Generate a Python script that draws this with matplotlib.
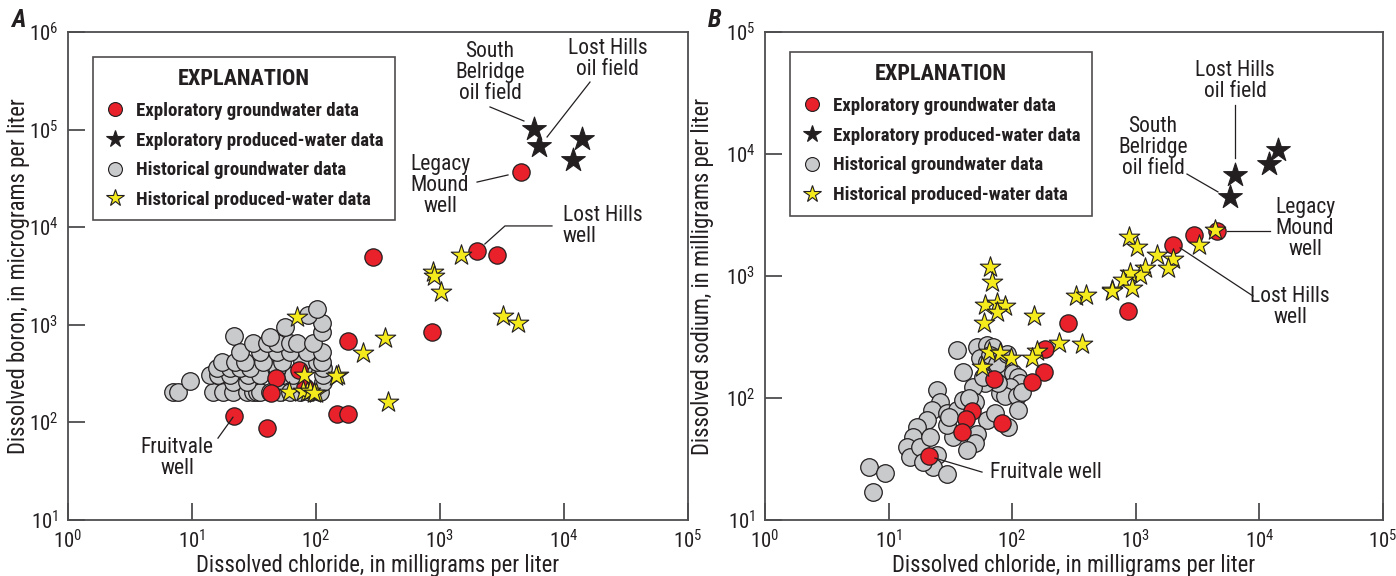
import matplotlib
matplotlib.use('Agg')
import matplotlib.pyplot as plt
from matplotlib import font_manager
from matplotlib.lines import Line2D
from matplotlib.ticker import LogLocator, NullLocator

# look for a narrow sans face; fall back to Liberation Sans
names = {f.name for f in font_manager.fontManager.ttflist}
FAM, STRETCH = 'Liberation Sans', 'normal'
for cand in ['Roboto Condensed', 'Liberation Sans Narrow', 'Open Sans Condensed',
             'DejaVu Sans Condensed', 'Noto Sans Condensed']:
    if cand in names:
        FAM = cand
        break
else:
    for f in font_manager.fontManager.ttflist:
        if f.name in ('Roboto', 'Noto Sans', 'Open Sans', 'DejaVu Sans', 'Inter') \
                and str(f.stretch) in ('condensed', 'semi-condensed', '300', '400'):
            FAM, STRETCH = f.name, f.stretch
            break

plt.rcParams['font.family'] = [FAM, 'DejaVu Sans']
plt.rcParams['font.stretch'] = STRETCH
plt.rcParams['mathtext.fontset'] = 'custom'
plt.rcParams['mathtext.rm'] = FAM
plt.rcParams['mathtext.default'] = 'regular'

RED = '#e8212a'
GRAY = '#c9cacc'
YELLOW = '#f4ea1c'
BLACK = '#231f20'
EDGE = '#231f20'
AXCOL = '#4d4d4f'
TXT = '#231f20'

# ---------------- Panel A: chloride (mg/L) vs boron (ug/L) ----------------
a_exp_gw_cl = [21.8, 40, 48, 43, 73, 81.5, 148, 181, 181, 288, 862, 1987, 2880, 4500]
a_exp_gw_b = [116, 88, 285, 200, 344, 231, 122, 122, 682, 4950, 843, 5700, 5190, 36800]

a_exp_pw_cl = [5730, 6280, 13970, 11800]
a_exp_pw_b = [101000, 67900, 80200, 48900]

a_hist_gw_cl = [7.0, 7.7, 9.6, 21.8,
                14.8, 17.8, 21.4, 27.8, 31, 33.4, 35.3, 42.6, 51.3, 61.7, 74.3, 89.5, 108,
                21.4, 27.8, 70.5, 114,
                14.0, 16.2, 20.2, 28.3, 35.3, 54.2, 65.3, 114,
                16.0, 20.2, 24.4, 29.4, 48.4, 78, 114,
                17.5, 22.2, 26.8, 37.4, 53.2, 77.1, 102, 112,
                24.4, 35.3, 48.4, 61.7, 84.6, 112,
                31, 40.2, 48.4, 61.7, 70.5, 94.7,
                42.6, 112, 56.3, 112, 86, 102]
a_hist_gw_b = [205, 205, 266, 767,
               205, 205, 205, 205, 205, 205, 205, 205, 205, 205, 205, 205, 205,
               259, 259, 259, 259,
               306, 306, 306, 306, 306, 306, 306, 306,
               361, 361, 361, 361, 361, 361, 361,
               416, 416, 416, 416, 416, 416, 416, 416,
               526, 526, 526, 526, 526, 526,
               651, 651, 651, 651, 651, 651,
               750, 843, 949, 1042, 1259, 1452]

a_hist_pw_cl = [1476, 3220, 4260, 879, 900, 1019, 360, 239, 380, 70, 150, 145, 80,
                60.6, 84.5, 100, 78, 90, 96]
a_hist_pw_b = [5190, 1230, 1043, 3470, 3160, 2170, 733, 514, 162, 1200, 306, 300, 306,
               205, 205, 200, 210, 210, 200]

# ---------------- Panel B: chloride (mg/L) vs sodium (mg/L) ----------------
b_exp_gw_cl = [283, 184, 181, 145, 71.3, 47.3, 42.3, 39.3, 82.7, 21.2, 865, 2000, 2958, 4540]
b_exp_gw_na = [412, 252, 163, 135, 143, 78, 67, 52.6, 62.4, 33.5, 516, 1795, 2168, 2340]

b_exp_pw_cl = [5780, 6350, 11960, 14130]
b_exp_pw_na = [4450, 6730, 8280, 10800]

b_hist_gw_cl = [6.9, 9.4, 7.5, 35.5, 40.2, 52, 62, 70,
                54.9, 62.1, 74.9, 87.5, 102, 112, 116, 96, 79.7, 87.5, 109, 119, 77.2, 60.3, 48.4,
                112, 24.5, 26.1, 22.3, 29.5, 35.5, 40.2, 50, 62.1, 72.6, 93, 51.6, 50, 42.8,
                33.4, 29.5, 20.3, 16.9, 15.9, 14, 14.9, 17.9, 21.6, 24.5, 23, 29.5, 19.1,
                66, 75, 90, 58, 45, 31]
b_hist_gw_na = [27.2, 24.3, 17, 247, 164, 262, 272, 262,
                211, 199, 181, 164, 159, 150, 132, 124, 109, 103, 103, 113, 132, 132, 124,
                80, 116, 93, 80, 75, 80, 96, 93, 66, 75, 58, 51, 43, 37.5,
                48, 60, 66, 58, 48, 40, 33, 40, 48, 34, 27.4, 24, 30,
                225, 190, 230, 150, 100, 70]

b_hist_pw_cl = [4400, 3245, 2000, 1821, 1485, 1187, 1082, 898, 788, 931, 642, 881, 1023,
                66.1, 68.7, 60.3, 75.4, 87.5, 75.4, 59.2, 150, 328, 395, 642, 239, 367,
                159, 145, 64.9, 79.7, 97.8, 57]
b_hist_pw_na = [2380, 1795, 1377, 1164, 1487, 1164, 1019, 1060, 927, 797, 767, 2090, 1730,
                1186, 893, 578, 601, 568, 507, 412, 470, 685, 699, 753, 282, 277,
                243, 213, 238, 234, 213, 179]

legend_labels = ['Exploratory groundwater data', 'Exploratory produced-water data',
                 'Historical groundwater data', 'Historical produced-water data']

fig = plt.figure(figsize=(13.96, 5.76), dpi=100)
W, H = 1396, 576
axA = fig.add_axes([68 / W, 56 / H, 620 / W, 488 / H])
axB = fig.add_axes([765 / W, 56 / H, 618 / W, 488 / H])


def style_axes(ax, ylim, xlabel, ylabel, ylab_x):
    ax.set_xscale('log')
    ax.set_yscale('log')
    ax.set_xlim(1, 1e5)
    ax.set_ylim(*ylim)
    ax.xaxis.set_major_locator(LogLocator(base=10, numticks=10))
    ax.yaxis.set_major_locator(LogLocator(base=10, numticks=10))
    ax.xaxis.set_minor_locator(NullLocator())
    ax.yaxis.set_minor_locator(NullLocator())
    ax.tick_params(which='major', direction='in', length=12, width=1.3, color=AXCOL,
                   labelsize=15, labelcolor=TXT, pad=7)
    for sp in ax.spines.values():
        sp.set_color(AXCOL)
        sp.set_linewidth(1.3)
    ax.set_xlabel(xlabel, fontsize=16.3, color=TXT, labelpad=1)
    ax.set_ylabel(ylabel, fontsize=16.3, color=TXT)
    ax.yaxis.set_label_coords(ylab_x, 0.5)


def draw_points(ax, gw_x, gw_y, hg_x, hg_y, hp_x, hp_y, ep_x, ep_y):
    ax.scatter(hg_x, hg_y, s=160, c=GRAY, edgecolors=EDGE, linewidths=0.9, zorder=3)
    ax.scatter(gw_x, gw_y, s=155, c=RED, edgecolors=EDGE, linewidths=0.9, zorder=4)
    ax.scatter(hp_x, hp_y, s=240, marker='*', c=YELLOW, edgecolors=EDGE, linewidths=0.8, zorder=5)
    ax.scatter(ep_x, ep_y, s=320, marker='*', c=BLACK, edgecolors=EDGE, linewidths=0.8, zorder=6)


def add_legend(ax, anchor):
    handles = [
        Line2D([], [], ls='none', marker='o', ms=10, mfc=RED, mec=EDGE, mew=0.8),
        Line2D([], [], ls='none', marker='*', ms=13, mfc=BLACK, mec=EDGE, mew=0.8),
        Line2D([], [], ls='none', marker='o', ms=10, mfc=GRAY, mec=EDGE, mew=0.8),
        Line2D([], [], ls='none', marker='*', ms=13, mfc=YELLOW, mec=EDGE, mew=0.8),
    ]
    leg = ax.legend(handles, legend_labels, loc='upper left', bbox_to_anchor=anchor,
                    borderaxespad=0, frameon=True, fancybox=False, title='EXPLANATION',
                    prop={'weight': 'bold', 'size': 13.6}, labelspacing=0.62,
                    handletextpad=0.5, handlelength=1.2, borderpad=0.6)
    leg.get_title().set_fontweight('bold')
    leg.get_title().set_fontsize(16)
    leg.get_title().set_color(TXT)
    for t in leg.get_texts():
        t.set_color(TXT)
    fr = leg.get_frame()
    fr.set_edgecolor(TXT)
    fr.set_linewidth(1.2)
    leg.set_zorder(10)


def label(ax, x, y, text, ha='center'):
    ax.text(x, y, text, ha=ha, va='center', fontsize=15.5, color=TXT,
            linespacing=1.0, zorder=8)


def leader(ax, xs, ys):
    ax.plot(xs, ys, color=TXT, lw=0.9, zorder=7)


# ---- Panel A
style_axes(axA, (10, 1e6), 'Dissolved chloride, in milligrams per liter',
           'Dissolved boron, in micrograms per liter', -0.062)
draw_points(axA, a_exp_gw_cl, a_exp_gw_b, a_hist_gw_cl, a_hist_gw_b,
            a_hist_pw_cl, a_hist_pw_b, a_exp_pw_cl, a_exp_pw_b)
add_legend(axA, (0.04, 0.949))

label(axA, 2530, 389000, 'South\nBelridge\noil field')
leader(axA, [2530, 4750], [170600, 122500])
label(axA, 22600, 528000, 'Lost Hills\noil field')
leader(axA, [16200, 7300], [307000, 84000])
label(axA, 1000, 27000, 'Legacy\nMound\nwell')
leader(axA, [1990, 3535], [29000, 34300])
label(axA, 9800, 10300, 'Lost Hills\nwell', ha='left')
leader(axA, [8000, 3340, 2300], [10300, 10300, 6730])
label(axA, 7.6, 43, 'Fruitvale\nwell')
leader(axA, [16.2, 21.4], [69, 113])

# ---- Panel B
style_axes(axB, (10, 1e5), 'Dissolved chloride, in milligrams per liter',
           'Dissolved sodium, in milligrams per liter', -0.083)
draw_points(axB, b_exp_gw_cl, b_exp_gw_na, b_hist_gw_cl, b_hist_gw_na,
            b_hist_pw_cl, b_hist_pw_na, b_exp_pw_cl, b_exp_pw_na)
add_legend(axB, (0.04, 0.959))

label(axB, 6350, 39600, 'Lost Hills\noil field')
leader(axB, [6350, 6350], [25000, 9270])
label(axB, 1377, 11400, 'South\nBelridge\noil field')
leader(axB, [2595, 4620], [6850, 4890])
label(axB, 23400, 2430, 'Legacy\nMound\nwell')
leader(axB, [5470, 12200], [2340, 2340])
label(axB, 17700, 557, 'Lost Hills\nwell')
leader(axB, [2280, 8870], [1700, 686])
label(axB, 66, 24.3, 'Fruitvale well', ha='left')
leader(axB, [23.7, 57], [32.2, 24.7])

fig.text(18 / W, 1 - 20 / H, 'A', fontsize=18, fontweight='bold', fontstyle='italic',
         ha='center', va='center', color=TXT)
fig.text(715 / W, 1 - 20 / H, 'B', fontsize=18, fontweight='bold', fontstyle='italic',
         ha='center', va='center', color=TXT)

fig.savefig('out.png', dpi=100, facecolor='white')
plt.close(fig)
